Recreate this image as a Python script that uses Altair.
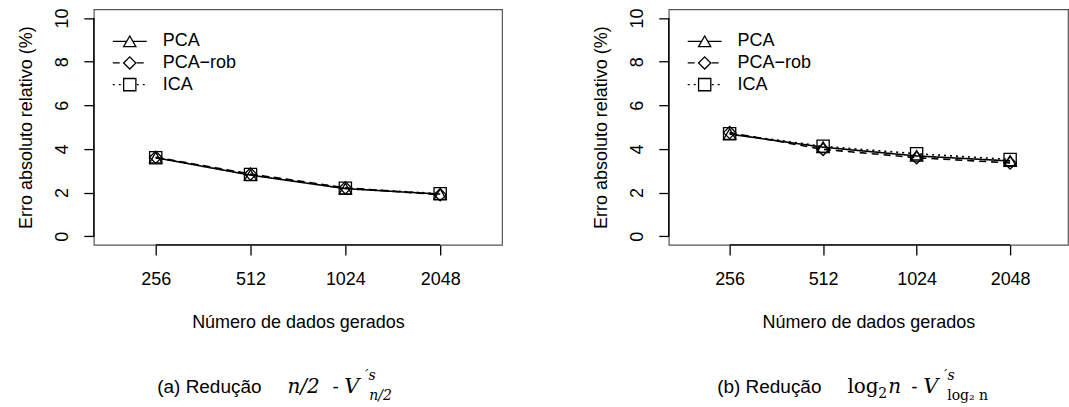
import altair as alt
import pandas as pd

# ---- data ----
sizes = ["256", "512", "1024", "2048"]
positions = [1, 2, 3, 4]
methods = ["PCA", "PCA\u2212rob", "ICA"]

a_pca = [3.60, 2.80, 2.18, 1.93]
a_rob = [3.62, 2.85, 2.22, 1.90]
a_ica = [3.60, 2.83, 2.20, 1.95]

b_pca = [4.68, 4.08, 3.68, 3.45]
b_rob = [4.75, 3.98, 3.60, 3.36]
b_ica = [4.70, 4.12, 3.78, 3.52]

y_ticks = [0, 2, 4, 6, 8, 10]

SANS = "Liberation Sans"
SERIF = "DejaVu Serif"
H = 236
one = pd.DataFrame({"k": [0]})


def make_df(series):
    rows = []
    for m, vals in zip(methods, series):
        for p, v in zip(positions, vals):
            rows.append({"pos": p, "val": v, "method": m})
    return pd.DataFrame(rows)


def txt(text, x, y, font=SANS, size=18, style="normal", align="left", baseline="alphabetic"):
    return alt.Chart(one).mark_text(
        text=text, font=font, fontSize=size, fontStyle=style, align=align,
        baseline=baseline, color="black"
    ).encode(x=alt.value(x), y=alt.value(y))


def panel(series, xdom, width, caption):
    df = make_df(series)
    label_expr = "[" + ",".join("'%s'" % s for s in sizes) + "][datum.value - 1]"
    x = alt.X("pos:Q", scale=alt.Scale(domain=xdom, nice=False, zero=False),
              axis=alt.Axis(values=positions, labelExpr=label_expr,
                            title="Número de dados gerados",
                            titleFont=SANS, titleFontSize=18, titleFontWeight="normal",
                            titlePadding=25, labelPadding=16))
    y = alt.Y("val:Q", scale=alt.Scale(domain=[-0.4, 10.4], nice=False, zero=False),
              axis=alt.Axis(values=y_ticks, labelAngle=270, labelAlign="center",
                            labelBaseline="bottom", labelPadding=12,
                            title="Erro absoluto relativo (%)", titleFont=SANS,
                            titleFontSize=18, titleFontWeight="normal", titlePadding=18))
    base = alt.Chart(df).encode(x=x, y=y)
    lines = base.mark_line(color="black", strokeWidth=1.6).encode(
        strokeDash=alt.StrokeDash("method:N", scale=alt.Scale(domain=methods, range=[[1, 0], [7, 5], [2, 4]]), legend=None),
        detail="method:N")
    pts = base.mark_point(filled=False, color="black", strokeWidth=1.3, size=150, opacity=1).encode(
        shape=alt.Shape("method:N", scale=alt.Scale(domain=methods, range=["triangle-up", "diamond", "square"]), legend=None))
    yaxis = alt.Chart(one).mark_rule(color="black", strokeWidth=1.4).encode(
        x=alt.value(0), y=alt.datum(0), y2=alt.datum(10))
    xaxis = alt.Chart(one).mark_rule(color="black", strokeWidth=1.4).encode(
        y=alt.value(H), x=alt.datum(1), x2=alt.datum(4))

    # legend
    leg = []
    dashes = [[1, 0], [7, 5], [2, 4]]
    shapes = ["triangle-up", "diamond", "square"]
    for i, m in enumerate(methods):
        yy = 32 + i * 21.7
        leg.append(alt.Chart(one).mark_rule(color="black", strokeWidth=1.3, strokeDash=dashes[i]).encode(
            x=alt.value(19), x2=alt.value(53), y=alt.value(yy)))
        leg.append(alt.Chart(one).mark_point(shape=shapes[i], filled=True, fill="white", stroke="black",
                                             strokeWidth=1.3, size=150, opacity=1).encode(
            x=alt.value(36), y=alt.value(yy)))
        leg.append(txt(m, 69, yy, baseline="middle"))

    caps = [txt(c[0], c[1], c[2], **c[3]) for c in caption]
    return alt.layer(lines, pts, yaxis, xaxis, *leg, *caps).properties(width=width, height=H)


CB = 384
cap_a = [
    ("(a) Redução", 168, CB, dict(size=19, align="right")),
    ("n/2", 194, CB, dict(font=SERIF, size=20, style="italic")),
    ("-", 239, CB, dict(size=19)),
    ("V", 251, CB, dict(font=SERIF, size=21, style="italic")),
    ("\u2032s", 272, CB - 13, dict(font=SERIF, size=14, style="italic")),
    ("n/2", 276, CB + 7, dict(font=SERIF, size=14, style="italic")),
]
cap_b = [
    ("(b) Redução", 153, CB, dict(size=19, align="right")),
    ("log", 179, CB, dict(font=SERIF, size=20)),
    ("2", 210, CB + 5, dict(font=SERIF, size=14)),
    ("n", 220, CB, dict(font=SERIF, size=20, style="italic")),
    ("-", 243, CB, dict(size=19)),
    ("V", 255, CB, dict(font=SERIF, size=21, style="italic")),
    ("\u2032s", 276, CB - 13, dict(font=SERIF, size=14, style="italic")),
    ("log\u2082 n", 279, CB + 7, dict(font=SERIF, size=14)),
]

left = panel([a_pca, a_rob, a_ica], [1 - 62 / 95, 4 + 62 / 95], 409, cap_a)
right = panel([b_pca, b_rob, b_ica], [1 - 61 / 93.7, 4 + 58 / 93.7], 400, cap_b)

chart = alt.hconcat(left, right, spacing=89).properties(
    padding={"left": 17, "top": 7, "right": 0, "bottom": 0},
    background="white",
).configure_view(stroke="#555555", strokeWidth=1.2).configure_axis(
    domain=False, grid=False, tickColor="black", tickSize=10, tickWidth=1.3,
    labelFont=SANS, labelFontSize=18, labelColor="black", titleColor="black"
)

chart.save("out.html", embed_options={"renderer": "svg", "actions": False})
